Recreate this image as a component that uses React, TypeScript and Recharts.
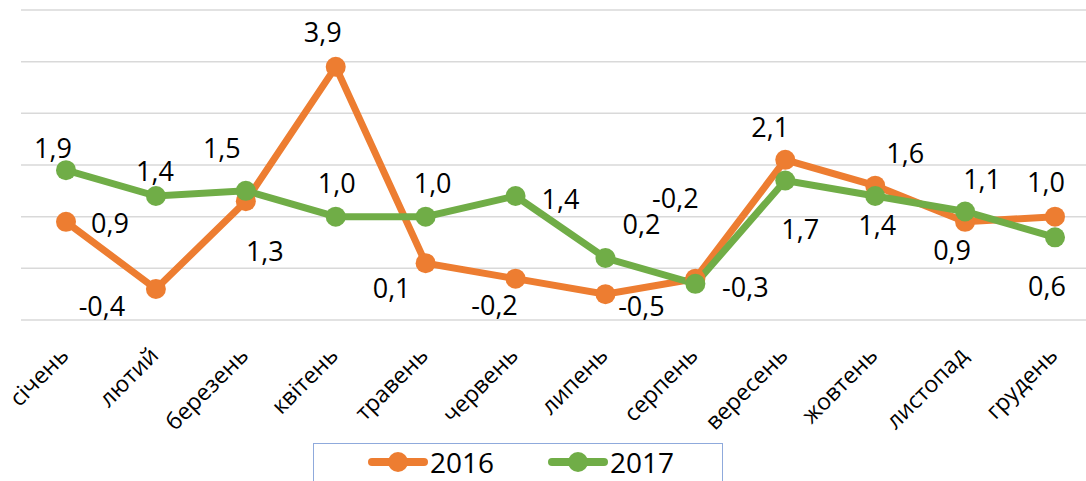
import React from 'react';
import { LineChart, Line, XAxis, YAxis, CartesianGrid, Legend, LabelList } from 'recharts';

const MONTHS = [
  'січень', 'лютий', 'березень', 'квітень', 'травень', 'червень',
  'липень', 'серпень', 'вересень', 'жовтень', 'листопад', 'грудень',
];
const VALUES_2016 = [0.9, -0.4, 1.3, 3.9, 0.1, -0.2, -0.5, -0.2, 2.1, 1.6, 0.9, 1.0];
const VALUES_2017 = [1.9, 1.4, 1.5, 1.0, 1.0, 1.4, 0.2, -0.3, 1.7, 1.4, 1.1, 0.6];
const Y_TICKS = [-1, 0, 1, 2, 3, 4, 5];

// hand-placed label offsets (dx, dy from the point), as in the original workbook
const LABEL_OFFSET_2016 = [
  [44, 1], [-54, 16], [19, 49], [-13, -35], [-34, 24], [-21, 26],
  [36, 11], [-20, -81], [-15, -33], [30, -33], [-13, 28], [-9, -35],
];
const LABEL_OFFSET_2017 = [
  [-13, -23], [-1, -26], [-24, -43], [1, -34], [7, -34], [45, 2],
  [36, -35], [50, 3], [15, 48], [2, 28], [17, -33], [-8, 48],
];

const ORANGE = '#ED7D31';
const GREEN = '#70AD47';
const FONT = '"Open Sans", sans-serif';

const data = MONTHS.map((month, i) => ({
  month,
  y2016: VALUES_2016[i],
  y2017: VALUES_2017[i],
}));

const fmt = (v: number) => v.toFixed(1).replace('.', ',');

const makeLabel = (offsets: number[][]) => (props: any) => {
  const { x, y, value, index } = props;
  const [dx, dy] = offsets[index] || [0, -30];
  return (
    <text
      x={x + dx}
      y={y + dy}
      textAnchor="middle"
      dominantBaseline="central"
      fontFamily={FONT}
      fontSize={27}
      fill="#000"
    >
      {fmt(value)}
    </text>
  );
};

const MonthTick = (props: any) => {
  const { x, y, payload } = props;
  const ax = x + 4;
  const ay = y + 29;
  return (
    <text
      x={ax}
      y={ay}
      transform={`rotate(-45, ${ax}, ${ay})`}
      textAnchor="end"
      fontFamily={FONT}
      fontSize={23}
      fill="#000"
    >
      {payload.value}
    </text>
  );
};

const LegendItem = ({ left, color, label }: { left: number; color: string; label: string }) => (
  <div style={{ position: 'absolute', left, top: 0, height: 36, display: 'flex', alignItems: 'center' }}>
    <svg width={60} height={24}>
      <line x1={4} y1={12} x2={56} y2={12} stroke={color} strokeWidth={8} strokeLinecap="round" />
      <circle cx={30} cy={12} r={10} fill={color} />
    </svg>
    <span style={{ marginLeft: 2, lineHeight: 1 }}>{label}</span>
  </div>
);

const LegendBox = () => (
  <div
    style={{
      position: 'relative',
      width: 410,
      height: 38,
      boxSizing: 'border-box',
      borderTop: '1.5px solid #8FAADC',
      borderLeft: '1.5px solid #8FAADC',
      borderRight: '1.5px solid #8FAADC',
      fontFamily: FONT,
      fontSize: 28,
      color: '#000',
    }}
  >
    <LegendItem left={54} color={ORANGE} label="2016" />
    <LegendItem left={234} color={GREEN} label="2017" />
  </div>
);

export default function App() {
  return (
    <div style={{ position: 'absolute', left: 0, top: 0, width: 1086, height: 481, overflow: 'hidden', background: '#fff' }}>
      <LineChart
        width={1100}
        height={481}
        data={data}
        margin={{ top: 10, right: 0, left: 21, bottom: 0 }}
      >
        <CartesianGrid vertical={false} stroke="#D9D9D9" strokeWidth={1.5} />
        <XAxis
          dataKey="month"
          padding={{ left: 45, right: 45 }}
          axisLine={false}
          tickLine={false}
          interval={0}
          height={123}
          tick={<MonthTick />}
        />
        <YAxis hide domain={[-1, 5]} ticks={Y_TICKS} />
        <Legend
          content={<LegendBox />}
          verticalAlign="bottom"
          width={410}
          height={38}
          wrapperStyle={{ left: 313, top: 443, bottom: 'auto', width: 410, height: 38 }}
        />
        <Line
          dataKey="y2016"
          name="2016"
          stroke={ORANGE}
          strokeWidth={7}
          dot={{ r: 10, fill: ORANGE, stroke: 'none' }}
          activeDot={false}
          isAnimationActive={false}
        >
          <LabelList dataKey="y2016" content={makeLabel(LABEL_OFFSET_2016)} />
        </Line>
        <Line
          dataKey="y2017"
          name="2017"
          stroke={GREEN}
          strokeWidth={7}
          dot={{ r: 10, fill: GREEN, stroke: 'none' }}
          activeDot={false}
          isAnimationActive={false}
        >
          <LabelList dataKey="y2017" content={makeLabel(LABEL_OFFSET_2017)} />
        </Line>
      </LineChart>
    </div>
  );
}
